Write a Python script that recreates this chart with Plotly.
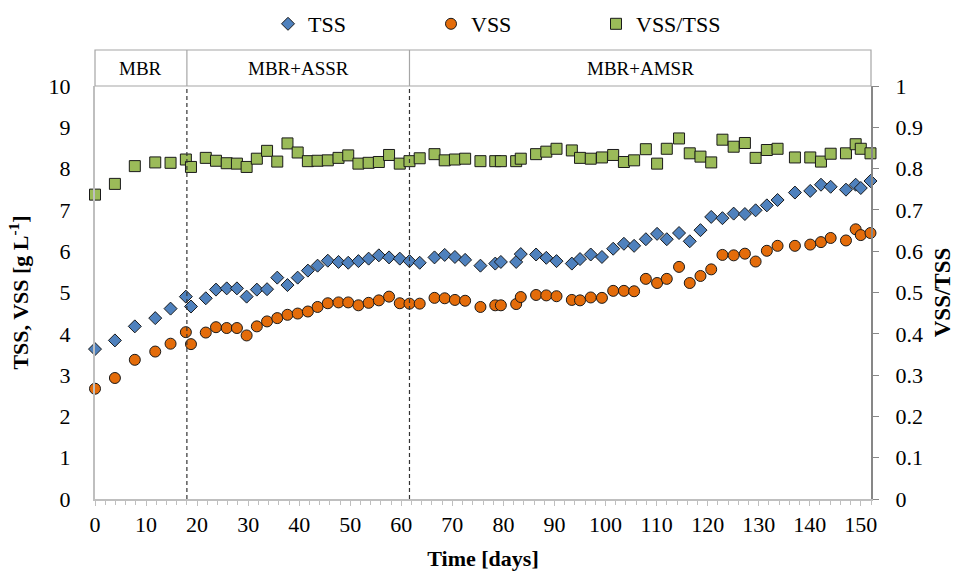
import plotly.graph_objects as go

# ---- data ----
days = [0, 3.9, 7.8, 11.8, 14.8, 17.8, 18.8, 21.7, 23.7, 25.8, 27.8, 29.7, 31.7, 33.7, 35.7,
        37.7, 39.7, 41.7, 43.6, 45.6, 47.7, 49.6, 51.6, 53.6, 55.6, 57.6, 59.7, 61.6, 63.6,
        66.5, 68.5, 70.5, 72.5, 75.5, 78.4, 79.5, 82.5, 83.4, 86.4, 88.4, 90.4, 93.4, 95.0,
        97.1, 99.3, 101.5, 103.6, 105.6, 107.9, 110.1, 112.0, 114.4, 116.5, 118.6, 120.7,
        122.9, 125.1, 127.3, 129.4, 131.6, 133.7, 137.1, 140.1, 142.2, 144.1, 147.1, 149.0,
        150.0, 151.9]

tss = [3.63, 3.84, 4.18, 4.38, 4.61, 4.90, 4.66, 4.86, 5.07, 5.10, 5.10, 4.90, 5.07, 5.08, 5.36,
       5.18, 5.36, 5.53, 5.65, 5.77, 5.74, 5.72, 5.76, 5.82, 5.90, 5.85, 5.82, 5.76, 5.72,
       5.85, 5.91, 5.86, 5.79, 5.65, 5.70, 5.74, 5.74, 5.93, 5.92, 5.84, 5.76, 5.70, 5.81,
       5.92, 5.86, 6.06, 6.18, 6.13, 6.29, 6.42, 6.29, 6.44, 6.24, 6.51, 6.83,
       6.80, 6.91, 6.90, 6.99, 7.11, 7.24, 7.42, 7.46, 7.61, 7.56, 7.49, 7.61,
       7.53, 7.70]

vss = [2.67, 2.93, 3.37, 3.57, 3.76, 4.04, 3.75, 4.03, 4.16, 4.14, 4.14, 3.96, 4.18, 4.30, 4.38,
       4.46, 4.49, 4.54, 4.65, 4.74, 4.76, 4.76, 4.69, 4.75, 4.81, 4.90, 4.74, 4.73, 4.73,
       4.87, 4.86, 4.82, 4.80, 4.65, 4.69, 4.69, 4.72, 4.89, 4.94, 4.93, 4.91, 4.82, 4.81,
       4.88, 4.87, 5.04, 5.04, 5.03, 5.33, 5.23, 5.33, 5.62, 5.23, 5.40, 5.56,
       5.91, 5.90, 5.94, 5.75, 6.01, 6.13, 6.13, 6.16, 6.22, 6.32, 6.26, 6.53,
       6.39, 6.44]

ratio = [0.737, 0.763, 0.806, 0.815, 0.814, 0.822, 0.804, 0.826, 0.819, 0.813, 0.812, 0.804, 0.824, 0.843, 0.817,
         0.861, 0.839, 0.818, 0.819, 0.820, 0.826, 0.832, 0.812, 0.814, 0.816, 0.833, 0.812, 0.818, 0.825,
         0.835, 0.820, 0.822, 0.824, 0.818, 0.818, 0.818, 0.818, 0.824, 0.835, 0.841, 0.848, 0.844, 0.826,
         0.824, 0.827, 0.833, 0.816, 0.820, 0.847, 0.812, 0.848, 0.873, 0.837, 0.829, 0.815,
         0.870, 0.853, 0.862, 0.826, 0.845, 0.848, 0.827, 0.827, 0.817, 0.836, 0.837, 0.859,
         0.848, 0.837]

phase_names = ["MBR", "MBR+ASSR", "MBR+AMSR"]
phase_bounds = [0, 18, 61.6, 152]

x_ticks = list(range(0, 151, 10))

FONT = "Liberation Serif"
OUTLINE = dict(color="#1a1a1a", width=1)

fig = go.Figure()
fig.add_trace(go.Scatter(x=days, y=tss, mode="markers", name="TSS", legend="legend",
                         marker=dict(symbol="diamond", size=10, color="#4F81BD", line=OUTLINE),
                         cliponaxis=False, showlegend=True))
fig.add_trace(go.Scatter(x=days, y=vss, mode="markers", name="VSS", legend="legend2",
                         marker=dict(symbol="circle", size=11, color="#E46C0A", line=OUTLINE),
                         cliponaxis=False, showlegend=True))
fig.add_trace(go.Scatter(x=days, y=ratio, mode="markers", name="VSS/TSS", yaxis="y2", legend="legend3",
                         marker=dict(symbol="square", size=11, color="#9BBB59", line=OUTLINE),
                         cliponaxis=False, showlegend=True))

L, R, T, B = 95, 86, 86, 72
W, H = 957, 571
pw, ph = W - L - R, H - T - B
box_top = 1 + 36 / ph

shapes = [dict(type="rect", xref="paper", yref="paper", x0=0, x1=1, y0=1, y1=box_top,
               line=dict(color="#A6A6A6", width=1.2), layer="above")]
for b in phase_bounds[1:-1]:
    shapes.append(dict(type="line", xref="x", yref="paper", x0=b, x1=b, y0=1, y1=box_top,
                       line=dict(color="#A6A6A6", width=1.2)))
    shapes.append(dict(type="line", xref="x", yref="y", x0=b, x1=b, y0=0, y1=10,
                       line=dict(color="#333333", width=1.2, dash="4px,3px")))

annotations = []
for i, name in enumerate(phase_names):
    annotations.append(dict(x=(phase_bounds[i] + phase_bounds[i + 1]) / 2, xref="x",
                            y=(1 + box_top) / 2, yref="paper", text=name, showarrow=False,
                            font=dict(family=FONT, size=19, color="black"),
                            xanchor="center", yanchor="middle"))


def lx(px):
    return (px - 20 - L) / pw


ly = (H - B - 24) / ph
leg_common = dict(orientation="h", yanchor="middle", y=ly, xanchor="left",
                  font=dict(family=FONT, size=22, color="black"), bgcolor="rgba(0,0,0,0)",
                  borderwidth=0)

fig.update_layout(
    width=W, height=H,
    showlegend=True,
    margin=dict(l=L, r=R, t=T, b=B, pad=0, autoexpand=False),
    paper_bgcolor="white", plot_bgcolor="white",
    font=dict(family=FONT, size=22, color="black"),
    shapes=shapes, annotations=annotations,
    legend=dict(x=lx(288), **leg_common),
    legend2=dict(x=lx(451), **leg_common),
    legend3=dict(x=lx(616), **leg_common),
    xaxis=dict(range=[0, 152], tickmode="array", tickvals=x_ticks,
               showgrid=False, zeroline=False, showline=True, linecolor="#BFBFBF", linewidth=1.5,
               ticks="outside", ticklen=5, tickcolor="#BFBFBF", tickwidth=1,
               minor=dict(dtick=2, ticks="outside", ticklen=4, tickcolor="#BFBFBF", tickwidth=1, showgrid=False),
               tickfont=dict(family=FONT, size=22, color="black"), ticklabelstandoff=0,
               title=dict(text="<b>Time [days]</b>", font=dict(family=FONT, size=22, color="black"), standoff=14)),
    yaxis=dict(range=[0, 10], dtick=1, showgrid=False, zeroline=False, showline=True,
               linecolor="#BFBFBF", linewidth=2, ticks="", ticklabelstandoff=18,
               tickfont=dict(family=FONT, size=22, color="black"),
               title=dict(text="<b>TSS, VSS [g L<sup>-1</sup>]</b>", font=dict(family=FONT, size=22, color="black"), standoff=14)),
    yaxis2=dict(range=[0, 1], dtick=0.1, overlaying="y", side="right", showgrid=False, zeroline=False,
                showline=True, linecolor="#878787", linewidth=2, ticks="outside", ticklen=6,
                tickcolor="#878787", tickwidth=1, ticklabelstandoff=12,
                tickfont=dict(family=FONT, size=22, color="black"),
                title=dict(text="<b>VSS/TSS</b>", font=dict(family=FONT, size=23, color="black"), standoff=12)),
)

fig.write_html("out.html")
